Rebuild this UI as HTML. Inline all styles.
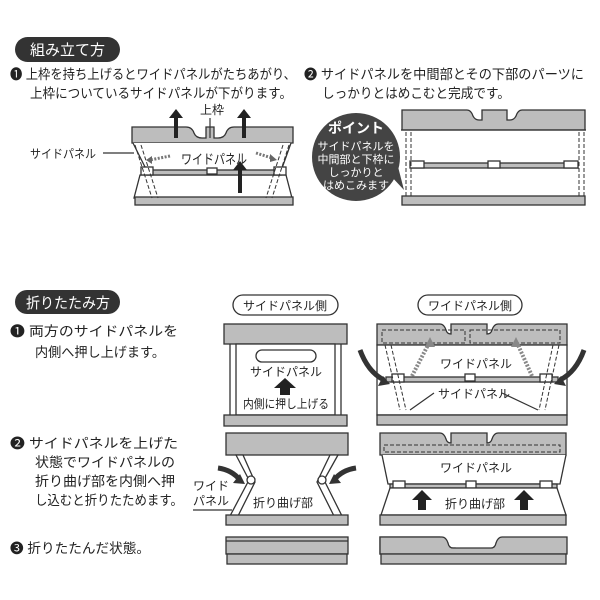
<!DOCTYPE html>
<html><head><meta charset="utf-8"><style>
body{margin:0;background:#fff;}
svg{display:block;font-family:"Liberation Sans","Noto Sans CJK JP",sans-serif;}
.t{font-size:13.5px;fill:#222;}
.s{font-size:12px;fill:#222;}
.g{fill:#bdbdbd;stroke:#333;stroke-width:1.3;}
.w{fill:#fff;stroke:#333;stroke-width:1.3;}
.l{fill:none;stroke:#333;stroke-width:1.2;}
.d{fill:none;stroke:#333;stroke-width:1;stroke-dasharray:4 2;}
</style></head><body>
<svg width="600" height="600" viewBox="0 0 600 600">
<!-- Section 1 header -->
<rect x="15" y="37" width="105" height="25" rx="12.5" fill="#333"/>
<text x="30" y="55" font-size="15" fill="#fff" textLength="75" lengthAdjust="spacingAndGlyphs">組み立て方</text>
<text x="10" y="79" class="t" textLength="286" lengthAdjust="spacingAndGlyphs">❶ 上枠を持ち上げるとワイドパネルがたちあがり、</text>
<text x="30" y="98" class="t" textLength="262" lengthAdjust="spacingAndGlyphs">上枠についているサイドパネルが下がります。</text>
<text x="304" y="79" class="t" textLength="280" lengthAdjust="spacingAndGlyphs">❷ サイドパネルを中間部とその下部のパーツに</text>
<text x="322" y="98" class="t" textLength="188" lengthAdjust="spacingAndGlyphs">しっかりとはめこむと完成です。</text>

<!-- Diagram 1 -->
<path class="g" d="M132 127 H186 q6 0 8 6 q2 5 8 5 h4 V127 h8 V138 h4 q6 0 8 -5 q2 -6 8 -6 H293 V143 H132 Z"/>
<line x1="210" y1="118" x2="210" y2="138" class="l"/>
<text x="200" y="114" class="s">上枠</text>
<path class="w" d="M133 143 L147 171 H281 L291 143"/>
<path class="w" d="M140 175 L134 198 H292 L286 175 Z"/>
<rect x="135" y="197" width="158" height="8" class="g"/>
<rect x="147" y="170" width="134" height="5" class="g"/>
<rect x="141" y="167" width="12" height="8" class="w"/><rect x="207" y="168" width="10" height="6" class="w"/><rect x="274" y="167" width="12" height="8" class="w"/>
<path class="d" d="M135 145 L152 198 M141 145 L158 198 M289 145 L272 198 M283 145 L266 198"/>
<path d="M174 138 V118 h-5 l7 -9 l7 9 h-5 V138 Z M242 138 V118 h-5 l7 -9 l7 9 h-5 V138 Z M238 193 V170 h-5 l7 -9 l7 9 h-5 V193 Z" fill="#222"/>
<text x="181" y="164" class="t" textLength="66" lengthAdjust="spacingAndGlyphs">ワイドパネル</text>
<path d="M170 156 L150 160" stroke="#777" stroke-width="3" stroke-dasharray="2 1.5"/><path d="M146 160 l6 -4 v8z" fill="#666"/>
<path d="M256 153 L272 158" stroke="#777" stroke-width="3" stroke-dasharray="2 1.5"/><path d="M277 160 l-7 -6 v8z" fill="#666"/>
<text x="30" y="158" class="s" textLength="66" lengthAdjust="spacingAndGlyphs">サイドパネル</text>
<line x1="103" y1="153" x2="134" y2="153" class="l"/>

<!-- Diagram 2 -->
<path class="g" d="M402 110 H467 q4 0 6 6 q2 4 6 4 h3 V110 h25 V120 h3 q4 0 6 -4 q2 -6 6 -6 H585 V130 H402 Z"/>
<line x1="401" y1="130" x2="586" y2="130" class="l"/>
<rect x="412" y="163" width="166" height="5" class="g"/>
<rect x="410" y="161" width="14" height="7" class="w"/><rect x="488" y="161" width="12" height="7" class="w"/><rect x="564" y="161" width="14" height="7" class="w"/>
<rect x="402" y="196" width="183" height="9" class="g"/>
<path class="d" d="M406 132 V196 M411 132 V196 M579 132 V196 M584 132 V196"/>
<circle cx="356" cy="157" r="44" fill="#444"/>
<path d="M390 175 L404 190 L395 155 Z" fill="#444"/>
<text x="356" y="133" font-size="14" font-weight="bold" fill="#fff" text-anchor="middle">ポイント</text>
<text x="356" y="150" font-size="11" fill="#fff" text-anchor="middle">サイドパネルを</text>
<text x="356" y="163" font-size="11" fill="#fff" text-anchor="middle">中間部と下枠に</text>
<text x="356" y="176" font-size="11" fill="#fff" text-anchor="middle">しっかりと</text>
<text x="356" y="189" font-size="11" fill="#fff" text-anchor="middle">はめこみます</text>

<!-- Section 2 header -->
<rect x="15" y="290" width="105" height="24" rx="12" fill="#333"/>
<text x="26" y="308" font-size="15" fill="#fff" textLength="84" lengthAdjust="spacingAndGlyphs">折りたたみ方</text>
<text x="10" y="336" class="t" textLength="168" lengthAdjust="spacingAndGlyphs">❶ 両方のサイドパネルを</text>
<text x="35" y="357" class="t" textLength="130" lengthAdjust="spacingAndGlyphs">内側へ押し上げます。</text>
<text x="10" y="448" class="t" textLength="168" lengthAdjust="spacingAndGlyphs">❷ サイドパネルを上げた</text>
<text x="35" y="467" class="t" textLength="140" lengthAdjust="spacingAndGlyphs">状態でワイドパネルの</text>
<text x="35" y="486" class="t" textLength="140" lengthAdjust="spacingAndGlyphs">折り曲げ部を内側へ押</text>
<text x="35" y="505" class="t" textLength="148" lengthAdjust="spacingAndGlyphs">し込むと折りたためます。</text>
<text x="10" y="553" class="t" textLength="140" lengthAdjust="spacingAndGlyphs">❸ 折りたたんだ状態。</text>

<rect x="233" y="295" width="105" height="20" rx="10" class="w"/>
<text x="285" y="310" class="s" text-anchor="middle" font-size="13">サイドパネル側</text>
<rect x="418" y="295" width="104" height="20" rx="10" class="w"/>
<text x="470" y="310" class="s" text-anchor="middle" font-size="13">ワイドパネル側</text>

<!-- Row1 left -->
<rect x="224" y="324" width="123" height="20" class="g"/>
<path class="w" d="M230 344 V415 M341 344 V415"/>
<rect x="236" y="344" width="99" height="71" class="w"/>
<rect x="256" y="350" width="60" height="12" rx="6" class="w"/>
<text x="286" y="376" class="s" text-anchor="middle" font-size="13">サイドパネル</text>
<path d="M280 395 V388 h-6 l11 -10 l11 10 h-6 V395 Z" fill="#222"/>
<text x="286" y="408" class="s" text-anchor="middle" textLength="86" lengthAdjust="spacingAndGlyphs">内側に押し上げる</text>
<rect x="224" y="415" width="123" height="11" class="g"/>

<!-- Row1 right -->
<path class="g" d="M377 324 H440 q4 0 6 6 q1 4 5 4 V324 h36 V334 q4 0 5 -4 q2 -6 6 -6 H567 V345 H377 Z"/>
<path class="d" d="M382 330 H465 V343 H382 Z M470 330 H560 V343 H470 Z"/>
<rect x="377" y="345" width="190" height="70" class="w"/>
<rect x="386" y="377" width="172" height="5" class="g"/>
<rect x="392" y="374" width="12" height="8" class="w"/><rect x="465" y="374" width="10" height="7" class="w"/><rect x="540" y="374" width="12" height="8" class="w"/>
<path class="d" d="M385 345 L400 410 M391 345 L406 410 M559 345 L545 410 M553 345 L539 410"/>
<text x="440" y="368" class="s" font-size="13">ワイドパネル</text>
<text x="438" y="398" class="s" font-size="13">サイドパネル</text>
<path class="l" d="M434 393 L410 410 M502 393 L538 410"/>
<path d="M360 350 Q368 372 384 380" fill="none" stroke="#333" stroke-width="5"/><path d="M390 384 l-12 2 l5 -10z" fill="#333"/>
<path d="M584 350 Q576 372 560 380" fill="none" stroke="#333" stroke-width="5"/><path d="M554 384 l12 2 l-5 -10z" fill="#333"/>
<path d="M412 376 L428 345" stroke="#888" stroke-width="4" stroke-dasharray="2 1.5"/><path d="M430 337 l5 10 h-10z" fill="#888"/>
<path d="M532 376 L518 345" stroke="#888" stroke-width="4" stroke-dasharray="2 1.5"/><path d="M516 337 l5 10 h-10z" fill="#888"/>
<rect x="377" y="415" width="190" height="10" class="g"/>

<!-- Row2 left -->
<rect x="226" y="433" width="122" height="22" class="g"/>
<path class="w" d="M236 455 L249 480 L230 516 L238 516 L255 482 L243 455 Z M338 455 L324 480 L342 516 L334 516 L317 482 L330 455 Z"/>
<circle cx="251" cy="480" r="4" class="w"/><circle cx="322" cy="480" r="4" class="w"/>
<text x="253" y="507" class="s" font-size="13">折り曲げ部</text>
<rect x="226" y="515" width="122" height="10" class="g"/>
<path d="M218 468 Q232 470 240 480" fill="none" stroke="#333" stroke-width="5"/><path d="M245 484 l-12 -1 l7 -9z" fill="#333"/>
<path d="M356 468 Q342 470 334 480" fill="none" stroke="#333" stroke-width="5"/><path d="M329 484 l12 -1 l-7 -9z" fill="#333"/>
<text x="193" y="490" class="s">ワイド</text>
<text x="193" y="505" class="s">パネル</text>
<line x1="193" y1="510" x2="232" y2="510" class="l"/>

<!-- Row2 right -->
<path class="g" d="M380 433 H440 q4 0 6 6 q1 4 5 4 V433 h36 V443 q4 0 5 -4 q2 -6 6 -6 H566 V455 H380 Z"/>
<path class="d" d="M384 445 H560 V452 H384 Z"/>
<path class="w" d="M382 455 L388 484 H560 L566 455"/>
<text x="440" y="472" class="s" font-size="13">ワイドパネル</text>
<rect x="390" y="484" width="167" height="4" class="g"/>
<rect x="393" y="481" width="12" height="7" class="w"/><rect x="466" y="481" width="10" height="7" class="w"/><rect x="540" y="481" width="12" height="7" class="w"/>
<path class="w" d="M390 488 L381 515 H566 L557 488 Z"/>
<path d="M418 510 V500 h-6 l10 -10 l10 10 h-6 V510 Z M520 510 V500 h-6 l10 -10 l10 10 h-6 V510 Z" fill="#222"/>
<text x="445" y="508" class="s" font-size="13">折り曲げ部</text>
<rect x="380" y="515" width="186" height="10" class="g"/>

<!-- Row3 -->
<rect x="226" y="537" width="122" height="17" class="g"/>
<line x1="226" y1="541" x2="348" y2="541" class="l"/>
<rect x="227" y="554" width="120" height="10" class="g"/>
<path class="g" d="M380 537 H440 q4 0 6 6 q1 5 5 5 h4 V554 H380 Z"/>
<path class="g" d="M380 537 H442 q4 0 6 6 q1 5 5 5 h38 q4 0 5 -5 q2 -6 6 -6 H567 V554 H380 Z"/>
<rect x="381" y="554" width="185" height="10" class="g"/>
</svg>
</body></html>
